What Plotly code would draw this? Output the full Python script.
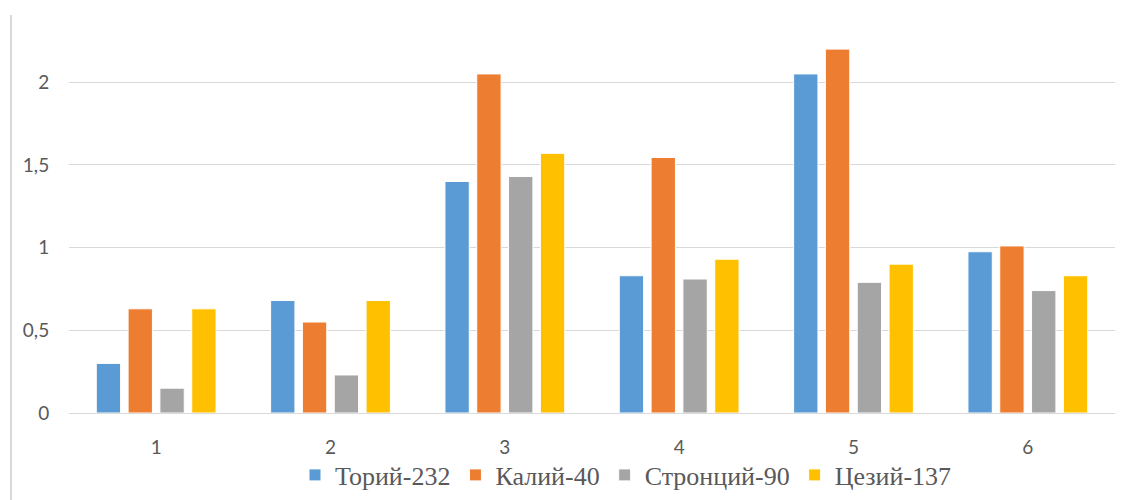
import plotly.graph_objects as go

categories = ["1", "2", "3", "4", "5", "6"]
thorium = [0.30, 0.68, 1.40, 0.83, 2.05, 0.975]
potassium = [0.63, 0.55, 2.05, 1.545, 2.20, 1.01]
strontium = [0.15, 0.23, 1.43, 0.81, 0.79, 0.74]
cesium = [0.63, 0.68, 1.57, 0.93, 0.90, 0.83]
series_names = ["Торий-232", "Калий-40", "Стронций-90", "Цезий-137"]
colors = ["#5B9BD5", "#ED7D31", "#A5A5A5", "#FFC000"]
y_ticks = [0, 0.5, 1, 1.5, 2]
y_tick_text = ["0", "0,5", "1", "1,5", "2"]

fig = go.Figure()
for name, vals, col in zip(series_names, [thorium, potassium, strontium, cesium], colors):
    fig.add_trace(go.Bar(
        x=categories, y=vals, name=name,
        marker=dict(color=col, line=dict(color="white", width=1)),
    ))

W, H = 1128, 500
ml, mr, mt, mb = 69, 13, 8, 87
plot_w = W - ml - mr
plot_h = H - mt - mb

fig.update_layout(
    width=W, height=H,
    margin=dict(l=ml, r=mr, t=mt, b=mb, autoexpand=False),
    paper_bgcolor="white", plot_bgcolor="white",
    barmode="group", bargap=0.27, bargroupgap=0.235,
    font=dict(family="Lato", size=19, color="#595959"),
    showlegend=True,
    legend=dict(
        orientation="h", xref="container", x=295 / W, xanchor="left",
        yref="container", y=(H - 475) / H, yanchor="middle",
        font=dict(family="'Liberation Serif', 'Times New Roman', Times, serif", size=26, color="#595959"),
        bgcolor="rgba(0,0,0,0)", itemwidth=30,
    ),
    xaxis=dict(
        type="category", showgrid=False, showline=False, zeroline=False,
        ticks="outside", ticklen=17, tickcolor="rgba(0,0,0,0)",
        tickfont=dict(family="Lato", size=19, color="#595959"),
    ),
    yaxis=dict(
        range=[0, plot_h / 165.4], tickvals=y_ticks, ticktext=y_tick_text,
        showgrid=True, gridcolor="#D9D9D9", gridwidth=1,
        zeroline=True, zerolinecolor="#D9D9D9", zerolinewidth=1,
        showline=False,
        ticks="outside", ticklen=15, tickcolor="rgba(0,0,0,0)",
        tickfont=dict(family="Lato", size=19, color="#595959"),
    ),
    shapes=[dict(
        type="line", xref="paper", yref="paper",
        x0=(11 - ml) / plot_w, x1=(11 - ml) / plot_w,
        y0=(H - mb - 500) / plot_h, y1=(H - mb - 15) / plot_h,
        line=dict(color="#D9D9D9", width=2),
    )],
)

fig.write_html("out.html")
